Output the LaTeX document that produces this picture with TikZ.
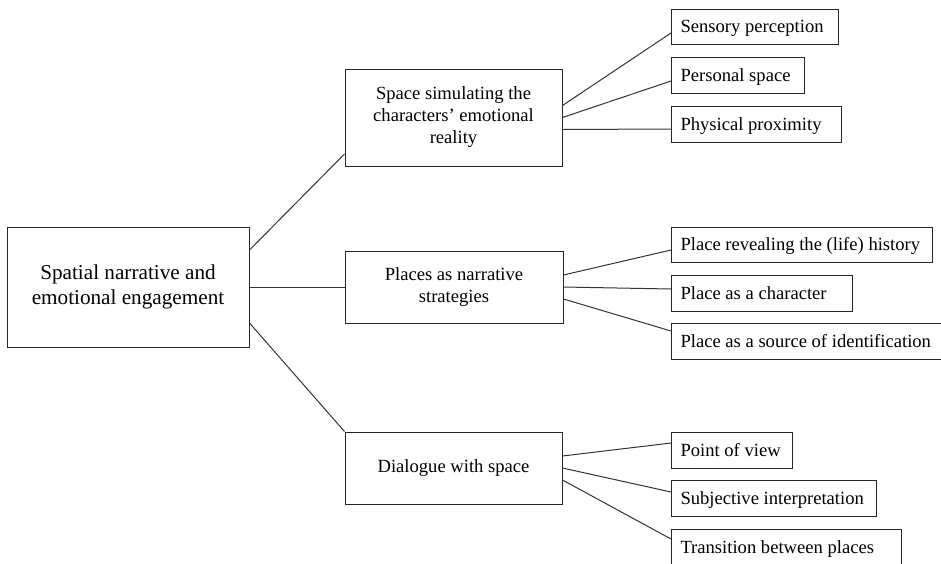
\documentclass[tikz,border=0pt]{standalone}
\usepackage{fontspec}
\setmainfont{Liberation Serif}
\begin{document}
\begin{tikzpicture}[x=1pt,y=-1pt,
  box/.style={draw=black!85,line width=1pt,inner sep=0pt,align=flush center},
  rootbox/.style={box,font=\fontsize{21.2}{24.5}\selectfont,text width=220pt},
  midbox/.style={box,font=\fontsize{18.6}{22}\selectfont,text width=205pt},
  leaf/.style={draw=black!85,line width=1pt,anchor=west,inner xsep=9pt,inner ysep=0pt,
    minimum height=36pt,text height=14pt,text depth=2pt,align=flush left,
    font=\fontsize{18.6}{22}\selectfont},
  link/.style={draw=black!80,line width=1pt}]
\clip (0,0) rectangle (941,563);
\fill[white] (0,0) rectangle (941,563);
% root
\node[rootbox,minimum width=242pt,minimum height=120pt] (root) at (128,287)
  {Spatial narrative and\\emotional engagement};
% middle level
\node[midbox,minimum width=217pt,minimum height=97pt] (m1) at (453.5,117.5)
  {Space simulating the\\characters’ emotional\\reality};
\node[midbox,minimum width=218pt,minimum height=72pt] (m2) at (454,287)
  {Places as narrative\\strategies};
\node[midbox,minimum width=217pt,minimum height=72pt] (m3) at (453.5,468)
  {Dialogue with space};
% leaves
\node[leaf,minimum height=35pt,text width=149pt] (l1) at (671,26.5) {Sensory perception};
\node[leaf,text width=115pt] (l2) at (671,75) {Personal space};
\node[leaf,text width=152pt] (l3) at (671,124) {Physical proximity};
\node[leaf,minimum height=35pt,text width=243pt] (l4) at (671,244.5) {Place revealing the (life) history};
\node[leaf,text width=163pt] (l5) at (671,293) {Place as a character};
\node[leaf,text width=282pt] (l6) at (671,341) {Place as a source of identification};
\node[leaf,text width=103pt] (l7) at (671,450) {Point of view};
\node[leaf,text width=187pt] (l8) at (671,498) {Subjective interpretation};
\node[leaf,text width=212pt] (l9) at (671,547) {Transition between places};
% connectors root -> middle
\draw[link] ([yshift=37pt]root.east) -- ([yshift=-36.5pt]m1.west);
\draw[link] (root.east) -- (m2.west);
\draw[link] ([yshift=-36pt]root.east) -- (m3.north west);
% m1 -> leaves
\draw[link] ([yshift=12pt]m1.east) -- ([yshift=-6.5pt]l1.west);
\draw[link] (m1.east) -- ([yshift=-6pt]l2.west);
\draw[link] ([yshift=-12pt]m1.east) -- ([yshift=-5pt]l3.west);
% m2 -> leaves
\draw[link] ([yshift=12pt]m2.east) -- ([yshift=-5.5pt]l4.west);
\draw[link] (m2.east) -- ([yshift=4pt]l5.west);
\draw[link] ([yshift=-12pt]m2.east) -- ([yshift=10pt]l6.west);
% m3 -> leaves
\draw[link] ([yshift=12pt]m3.east) -- ([yshift=7pt]l7.west);
\draw[link] (m3.east) -- ([yshift=6pt]l8.west);
\draw[link] ([yshift=-12pt]m3.east) -- ([yshift=8pt]l9.west);
\end{tikzpicture}
\end{document}
